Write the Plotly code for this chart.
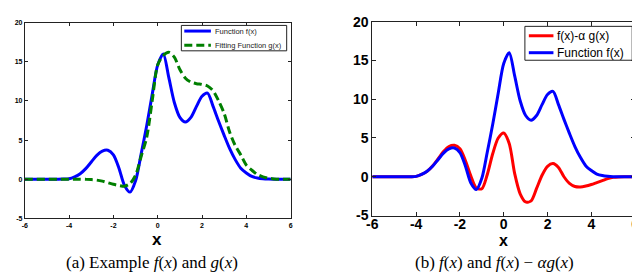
import plotly.graph_objects as go

x = [-6.0, -5.75, -5.5, -5.25, -5.0, -4.75, -4.5, -4.25, -4.0, -3.75, -3.5, -3.25,
     -3.0, -2.75, -2.5, -2.25, -2.0, -1.75, -1.5, -1.25, -1.0, -0.75, -0.5, -0.25,
     0.0, 0.25, 0.5, 0.75, 1.0, 1.25, 1.5, 1.75, 2.0, 2.25, 2.5, 2.75,
     3.0, 3.25, 3.5, 3.75, 4.0, 4.25, 4.5, 4.75, 5.0, 5.25, 5.5, 5.75, 6.0]

f_vals = [0, 0, 0, 0, 0, 0, 0, 0.01, 0.05, 0.3, 0.7, 1.35,
          2.2, 3.05, 3.6, 3.7, 3.1, 1.4, -0.8, -1.65, -0.2, 3.2, 6.8, 10.8,
          14.6, 16.0, 13.0, 9.8, 7.9, 7.3, 7.9, 9.3, 10.6, 11.0, 9.3, 7.4,
          5.6, 3.9, 2.5, 1.4, 0.8, 0.35, 0.15, 0.05, 0.01, 0, 0, 0, 0]

g_vals = [0, 0, 0, 0, 0, 0, 0, 0, 0, 0, 0, -0.02,
          -0.05, -0.12, -0.25, -0.45, -0.65, -0.8, -0.9, -0.55, 0.5, 2.9, 5.3, 10.0,
          14.6, 15.8, 16.2, 15.6, 14.0, 12.9, 12.4, 12.2, 12.1, 11.9, 11.3, 10.0,
          8.4, 6.0, 4.3, 3.1, 1.8, 1.15, 0.6, 0.3, 0.12, 0.04, 0, 0, 0]

h_vals = [0, 0, 0, 0, 0, 0, 0, 0.01, 0.05, 0.3, 0.7, 1.4,
          2.3, 3.25, 3.9, 4.05, 3.6, 2.1, 0.1, -1.45, -1.55, 0.3, 3.0, 5.0,
          5.65, 4.3, 0.4, -2.2, -3.25, -3.1, -1.5, 0.2, 1.35, 1.7, 1.2, 0.0,
          -0.85, -1.25, -1.32, -1.2, -1.0, -0.75, -0.5, -0.25, -0.08, -0.02, 0, 0, 0]

x_ticks = [-6, -4, -2, 0, 2, 4, 6]
x_tick_labels = ["-6", "-4", "-2", "0", "2", "4", "6"]
y_ticks = [-5, 0, 5, 10, 15, 20]
y_tick_labels = ["-5", "0", "5", "10", "15", "20"]

name_f = "Function f(x)"
name_g = "Fitting Function g(x)"
name_h = "f(x)-\u03b1 g(x)"

BLUE = "#0000ff"
GREEN = "#007f00"
RED = "#ff0000"
W, H = 640, 272

fig = go.Figure()
fig.add_trace(go.Scatter(x=x, y=f_vals, mode="lines", name=name_f, showlegend=False,
                         line=dict(color=BLUE, width=3, shape="spline", smoothing=0.8),
                         xaxis="x", yaxis="y"))
fig.add_trace(go.Scatter(x=x, y=g_vals, mode="lines", name=name_g, showlegend=False,
                         line=dict(color=GREEN, width=3, dash="8px,4px", shape="spline", smoothing=0.8),
                         xaxis="x", yaxis="y"))
fig.add_trace(go.Scatter(x=x, y=h_vals, mode="lines", name=name_h, showlegend=False,
                         line=dict(color=RED, width=3, shape="spline", smoothing=0.8),
                         xaxis="x2", yaxis="y2"))
fig.add_trace(go.Scatter(x=x, y=f_vals, mode="lines", name=name_f, showlegend=False,
                         line=dict(color=BLUE, width=3, shape="spline", smoothing=0.8),
                         xaxis="x2", yaxis="y2"))

ax_common = dict(showgrid=False, zeroline=False, showline=True, linecolor="#222222",
                 linewidth=1, mirror="ticks", ticks="inside", tickcolor="#222222",
                 range=[-6, 6], tickvals=x_ticks, ticktext=x_tick_labels,
                 ticklabeloverflow="allow")
ay_common = dict(showgrid=False, zeroline=False, showline=True, linecolor="#222222",
                 linewidth=1, mirror="ticks", ticks="inside", tickcolor="#222222",
                 range=[-5, 20], tickvals=y_ticks, ticktext=y_tick_labels)

small = dict(family="Arial, Liberation Sans, sans-serif", size=7, color="#000000", weight="bold")
big = dict(family="Arial, Liberation Sans, sans-serif", size=14, color="#000000", weight="bold")

fig.update_layout(
    width=W, height=H,
    margin=dict(l=0, r=0, t=0, b=0),
    paper_bgcolor="white", plot_bgcolor="white",
    showlegend=False,
    xaxis=dict(domain=[11/W, 281/W], anchor="y", ticklen=3, tickfont=small, **ax_common),
    yaxis=dict(domain=[(H-215)/H, (H-7)/H], anchor="x", ticklen=3, tickfont=small, **ay_common),
    xaxis2=dict(domain=[364/W, 631/W], anchor="y2", ticklen=4, tickfont=big,
                ticklabelstandoff=-4, **ax_common),
    yaxis2=dict(domain=[(H-212)/H, (H-6)/H], anchor="x2", ticklen=4, tickfont=big, **ay_common),
)

def px(xp):
    return xp / W

def py(yp):
    return 1 - yp / H

# legend boxes (drawn as shapes + real text)
shapes = []
def legend_box(x0, y0, x1, y1):
    shapes.append(dict(type="rect", xref="paper", yref="paper",
                       x0=px(x0), x1=px(x1), y0=py(y1), y1=py(y0),
                       line=dict(color="#222222", width=1), fillcolor="white", layer="above"))

def legend_line(x0, x1, yp, color, dash=None):
    ln = dict(color=color, width=3)
    if dash:
        ln["dash"] = dash
    shapes.append(dict(type="line", xref="paper", yref="paper",
                       x0=px(x0), x1=px(x1), y0=py(yp), y1=py(yp), line=ln, layer="above"))

legend_box(170, 10, 277, 37)
legend_line(173, 200, 16, BLUE)
legend_line(173, 200, 31, GREEN, "8px,4px")
legend_box(519, 11, 628, 47)
legend_line(523, 548, 21, RED)
legend_line(523, 548, 39, BLUE)
fig.update_layout(shapes=shapes)

def text(t, xp, yp, size, family="Arial, Liberation Sans, sans-serif", color="black", xanchor="left"):
    fig.add_annotation(text=t, x=px(xp), y=py(yp), xref="paper", yref="paper",
                       xanchor=xanchor, yanchor="middle", showarrow=False,
                       font=dict(family=family, size=size, color=color))

text(name_f, 202, 16, 7.5, color="#222222")
text(name_g, 202, 31, 7.5, color="#222222")
text(name_h, 550, 21, 12)
text(name_f, 550, 39, 12)

text("<b>x</b>", 145, 237, 17, xanchor="center")
text("<b>x</b>", 497, 239, 16, xanchor="center")
text("(a) Example <i>f</i>(<i>x</i>) and <i>g</i>(<i>x</i>)", 140, 262, 17,
     family="Liberation Serif, Times New Roman, serif", xanchor="center")
text("(b) <i>f</i>(<i>x</i>) and <i>f</i>(<i>x</i>) \u2212 <i>\u03b1g</i>(<i>x</i>)", 488, 262, 17,
     family="Liberation Serif, Times New Roman, serif", xanchor="center")

fig.write_html("out.html")
